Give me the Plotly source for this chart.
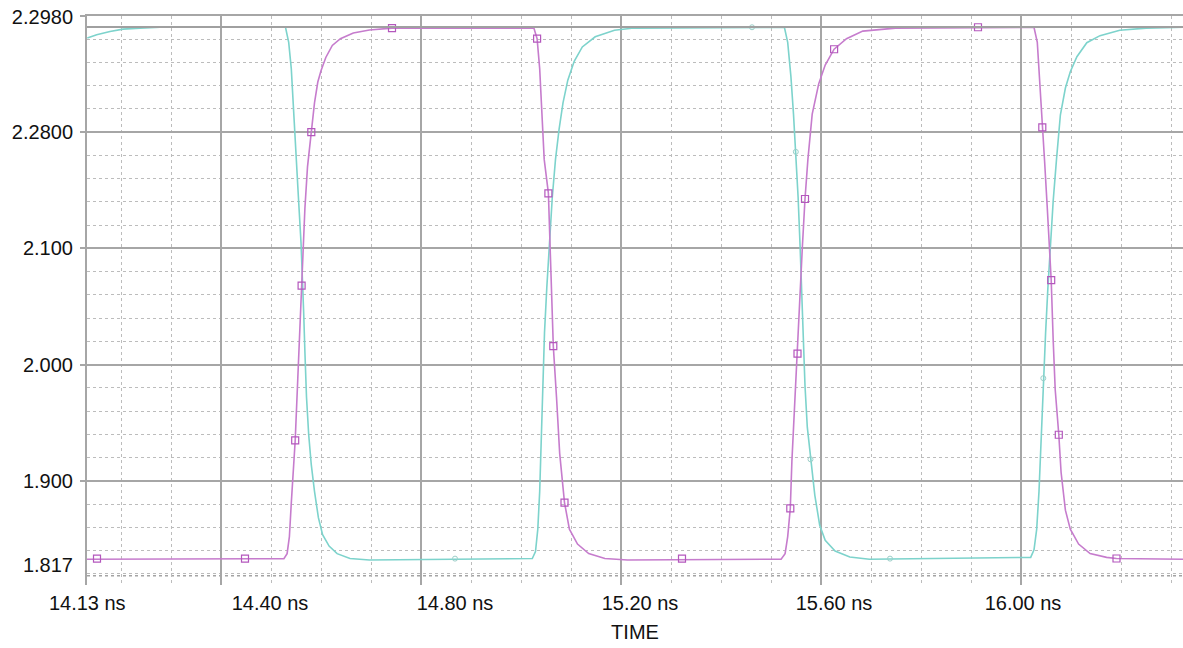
import plotly.graph_objects as go

# ---------------- data ----------------
# magenta waveform: time in ns, value in V
mag_t = [14.132, 14.5258, 14.5322, 14.5368, 14.5406, 14.5452, 14.5484, 14.5536, 14.558, 14.5612,
         14.5644, 14.5678, 14.573, 14.5806, 14.587, 14.5936, 14.6, 14.6096, 14.6226, 14.6388,
         14.6646, 14.6968, 14.742,
         15.0258, 15.0322, 15.0374, 15.042, 15.0464, 15.0548, 15.058, 15.0612, 15.0646, 15.071,
         15.0774, 15.087, 15.0968, 15.113, 15.1354, 15.1678, 15.213,
         15.5202, 15.5282, 15.5334, 15.5386, 15.5418, 15.5464, 15.553, 15.5582, 15.5628, 15.568,
         15.5738, 15.5824, 15.5954, 15.6084, 15.6262, 15.651, 15.6836, 15.749,
         16.026, 16.0326, 16.0372, 16.0426, 16.0472, 16.0524, 16.0578, 16.0604, 16.0644, 16.0684,
         16.0756, 16.0802, 16.0888, 16.0986, 16.1152, 16.1382, 16.1712, 16.191, 16.324]
mag_v = [1.8325, 1.833, 1.8373, 1.852, 1.881, 1.9136, 1.9347, 1.9883, 2.0338, 2.0679,
         2.1052, 2.1344, 2.1701, 2.2, 2.2253, 2.2432, 2.2529, 2.2643, 2.2747, 2.2805,
         2.2854, 2.288, 2.2896,
         2.2896, 2.2805, 2.2545, 2.2156, 2.1766, 2.1474, 2.1019, 2.0532, 2.0159, 1.9721,
         1.9234, 1.8812, 1.8584, 1.8455, 1.8373, 1.8331, 1.8318,
         1.8325, 1.8373, 1.852, 1.8763, 1.9169, 1.9591, 2.0094, 2.0565, 2.1019, 2.1425,
         2.1766, 2.2156, 2.2416, 2.2578, 2.2714, 2.2805, 2.287, 2.2896,
         2.2903, 2.2773, 2.248, 2.2042, 2.175, 2.136, 2.0922, 2.0727, 2.0208, 1.9786,
         1.9396, 1.9071, 1.8747, 1.8584, 1.8455, 1.8373, 1.8341, 1.8331, 1.8325]

# cyan waveform
cyan_t = [14.1326, 14.1514, 14.178, 14.204, 14.238, 14.278,
          14.529, 14.5354, 14.5406, 14.5452, 14.5496, 14.5548, 14.56, 14.5626, 14.5652, 14.5678,
          14.571, 14.5754, 14.5806, 14.587, 14.5948, 14.6032, 14.6162, 14.6322, 14.658, 14.6968,
          15.0226, 15.029, 15.0336, 15.0374, 15.0406, 15.0438, 15.047, 15.0516, 15.0568, 15.0626,
          15.069, 15.0762, 15.084, 15.0936, 15.1064, 15.1226, 15.1484, 15.187, 15.2258,
          15.5268, 15.5334, 15.5398, 15.545, 15.5496, 15.5542, 15.5582, 15.5614, 15.5648, 15.568,
          15.5726, 15.579, 15.5876, 15.5974, 15.6084, 15.6282, 15.6576, 15.6968,
          16.0194, 16.026, 16.0314, 16.036, 16.0406, 16.0446, 16.0492, 16.0538, 16.059, 16.0644,
          16.071, 16.0788, 16.0888, 16.0986, 16.1118, 16.1316, 16.158, 16.1976, 16.2504, 16.324]
cyan_v = [2.281, 2.2838, 2.2867, 2.2887, 2.2896, 2.2903,
          2.2903, 2.2773, 2.2545, 2.2221, 2.1831, 2.1442, 2.1052, 2.0792, 2.0468, 2.011,
          1.9721, 1.9396, 1.9136, 1.8909, 1.8682, 1.8536, 1.8438, 1.8373, 1.8331, 1.8318,
          1.8331, 1.839, 1.8584, 1.8909, 1.9396, 1.9883, 2.0273, 2.0662, 2.1052, 2.1442,
          2.1766, 2.2026, 2.2253, 2.2448, 2.261, 2.2734, 2.2821, 2.2877, 2.2896,
          2.2903, 2.2773, 2.248, 2.2156, 2.1831, 2.1442, 2.1019, 2.0597, 2.0208, 1.9818,
          1.9461, 1.9185, 1.8877, 1.8617, 1.8487, 1.8396, 1.8344, 1.8325,
          1.8341, 1.8406, 1.8584, 1.8909, 1.9396, 1.9883, 2.0273, 2.0662, 2.1052, 2.1409,
          2.1766, 2.215, 2.238, 2.252, 2.265, 2.277, 2.2831, 2.2877, 2.2896, 2.2903]

# symbol markers on the traces
mag_mark_t = [14.152, 14.448, 14.5484, 14.5612, 14.5806, 14.742, 15.0322, 15.0548, 15.0646, 15.087,
              15.322, 15.5386, 15.553, 15.568, 15.6262, 15.914, 16.0426, 16.0604, 16.0756, 16.191]
mag_mark_v = [1.833, 1.833, 1.9347, 2.0679, 2.2, 2.2896, 2.2805, 2.1474, 2.0159, 1.8812,
              1.833, 1.8763, 2.0094, 2.1425, 2.2714, 2.2903, 2.2042, 2.0727, 1.9396, 1.8331]
cyan_mark_t = [14.868, 15.462, 15.5496, 15.579, 15.738, 16.0446]
cyan_mark_v = [1.833, 2.2903, 2.1831, 1.9185, 1.833, 1.9883]

# reference level lines
ref_high = 2.2905
ref_low = 1.8182

# axes
x_range = [14.132, 16.324]
y_range = [1.8103, 2.3]
x_tick_pos = [14.1325, 14.498, 14.868, 15.238, 15.626, 16.004]
x_tick_text = ["14.13 ns", "14.40 ns", "14.80 ns", "15.20 ns", "15.60 ns", "16.00 ns"]
y_tick_pos = [2.2992, 2.2, 2.1, 2.0, 1.9, 1.8277]
y_tick_text = ["2.2980", "2.2800", "2.100", "2.000", "1.900", "1.817"]

# ---------------- figure ----------------
MAG = "#c67ccd"
MAG_MK = "#b457bd"
CYAN = "#7dd3cc"
MAJ = "#a6a6a6"
MIN = "#bcbcbc"
FONT = "Liberation Sans, Arial, sans-serif"

fig = go.Figure()
fig.add_trace(go.Scatter(x=cyan_t, y=cyan_v, mode="lines",
                         line=dict(color=CYAN, width=1.6), hoverinfo="skip"))
fig.add_trace(go.Scatter(x=mag_t, y=mag_v, mode="lines",
                         line=dict(color=MAG, width=1.6), hoverinfo="skip"))
# markers are drawn on the overlaid label axes (same ranges)
fig.add_trace(go.Scatter(x=cyan_mark_t, y=cyan_mark_v, mode="markers", xaxis="x2", yaxis="y2",
                         marker=dict(symbol="circle-open", size=5, color="#9ccfc9",
                                     line=dict(width=1)), hoverinfo="skip"))
fig.add_trace(go.Scatter(x=mag_mark_t, y=mag_mark_v, mode="markers", xaxis="x2", yaxis="y2",
                         marker=dict(symbol="square-open", size=7, color=MAG_MK,
                                     line=dict(width=1.2)), hoverinfo="skip"))

fig.add_hline(y=ref_high, line=dict(color="#a0a0a0", width=2), layer="above")
fig.add_hline(y=ref_low, line=dict(color="#a3a3a3", width=1.6, dash="dot"), layer="below")

fig.update_layout(
    width=1183, height=648,
    margin=dict(l=87, r=0, t=16, b=63),
    paper_bgcolor="white", plot_bgcolor="white",
    showlegend=False,
    font=dict(family=FONT, size=20, color="#111111"),
    xaxis=dict(range=x_range, side="top", showticklabels=False, ticks="",
               tick0=14.4, dtick=0.4, showgrid=True, gridcolor=MAJ, gridwidth=1.5,
               zeroline=False, showline=True, linecolor=MAJ, linewidth=1.5,
               minor=dict(tick0=14.4, dtick=0.1, showgrid=True, gridcolor=MIN,
                          gridwidth=1.4, griddash="dot")),
    xaxis2=dict(range=x_range, overlaying="x", side="bottom", showgrid=False,
                zeroline=False, showline=False, ticks="", automargin=False,
                tickmode="array", tickvals=x_tick_pos, ticktext=x_tick_text,
                ticklabelstandoff=4,
                title=dict(text="TIME", standoff=11, font=dict(size=20))),
    yaxis=dict(range=y_range, showticklabels=False, ticks="outside", ticklen=5,
               tickcolor=MAJ, tickwidth=1.5,
               tick0=1.9, dtick=0.1, showgrid=True, gridcolor=MAJ, gridwidth=1.5,
               zeroline=False, showline=True, linecolor=MAJ, linewidth=1.5,
               minor=dict(tick0=1.9, dtick=0.02, showgrid=True, gridcolor=MIN,
                          gridwidth=1.4, griddash="dot")),
    yaxis2=dict(range=y_range, overlaying="y", side="left", showgrid=False,
                zeroline=False, showline=False, ticks="", automargin=False,
                tickmode="array", tickvals=y_tick_pos, ticktext=y_tick_text,
                ticklabelstandoff=13),
)

fig.write_html("out.html", config={"displayModeBar": False},
               post_script="document.body.style.margin='0px';")
